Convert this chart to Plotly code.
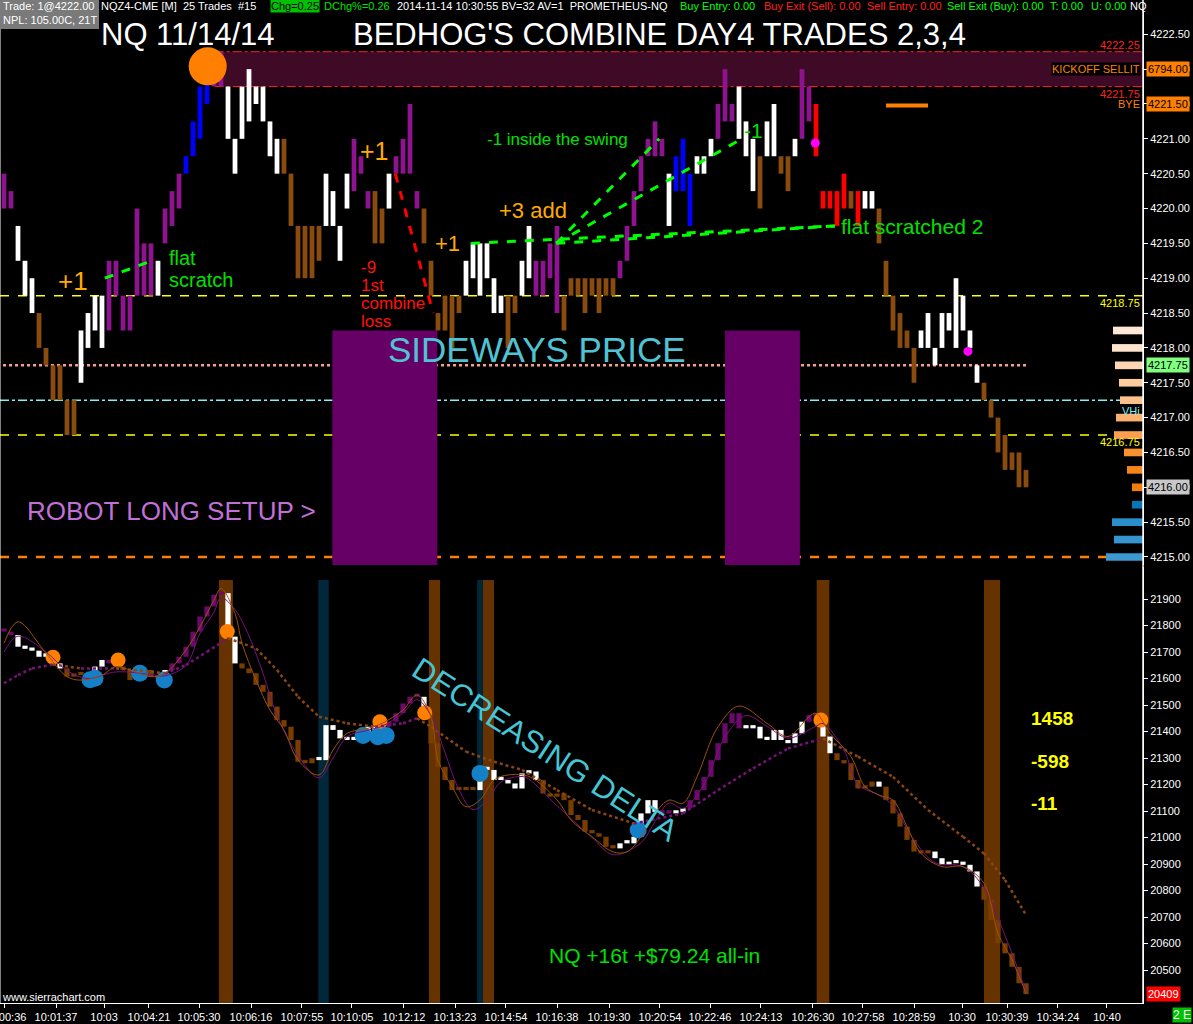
"""
NQ 11/14/14 trade recap chart (price bars + cumulative delta), Sierra Chart look.
"""

import plotly.graph_objects as go

# ---------------------------------------------------------------- data
# price bars, one per bar (left -> right); state = bar colouring study
bar_lo = [
    4220.0, 4220.0, 4219.25, 4218.75, 4218.5, 4218.0, 4217.75, 4217.25, 4217.25, 4216.75,
    4216.75, 4217.5, 4218.0, 4218.25, 4218.0, 4218.25, 4218.75, 4218.25, 4218.25, 4218.75,
    4218.75, 4218.75, 4218.75, 4219.5, 4219.75, 4220.0, 4220.5, 4220.75, 4221.0, 4221.5,
    4221.75, 4221.75, 4221.0, 4220.5, 4221.0, 4221.25, 4221.5, 4221.25, 4220.75, 4220.5,
    4220.5, 4219.75, 4219.0, 4219.0, 4219.0, 4219.25, 4219.75, 4219.75, 4219.25, 4220.0,
    4220.25, 4220.5, 4220.0, 4219.5, 4219.5, 4220.0, 4220.5, 4220.5, 4220.5, 4220.0,
    4219.5, 4218.75, 4218.25, 4218.25, 4218.0, 4218.5, 4218.75, 4219.0, 4218.75, 4219.0,
    4218.5, 4218.5, 4218.0, 4218.5, 4218.75, 4219.0, 4218.75, 4218.75, 4219.0, 4218.5,
    4218.25, 4218.75, 4218.75, 4218.5, 4218.75, 4218.5, 4218.75, 4218.75, 4219.0, 4219.25,
    4219.75, 4220.25, 4220.75, 4220.75, 4220.75, 4219.75, 4220.25, 4220.25, 4219.75, 4220.5,
    4220.5, 4220.75, 4221.0, 4221.25, 4221.25, 4221.0, 4220.75, 4220.25, 4220.0, 4220.75,
    4220.75, 4220.5, 4220.25, 4220.75, 4221.0, 4221.25, 4220.75, 4220.0, 4220.0, 4219.75,
    4220.0, 4220.0, 4219.75, 4220.0, 4220.0, 4219.5, 4218.75, 4218.25, 4218.0, 4218.0,
    4217.5, 4218.0, 4218.0, 4217.75, 4218.0, 4218.25, 4218.0, 4218.25, 4218.0, 4217.5,
    4217.25, 4217.0, 4216.5, 4216.25, 4216.25, 4216.0, 4216.0,
]
bar_hi = [
    4220.5, 4220.25, 4219.75, 4219.25, 4219.0, 4218.5, 4218.0, 4217.75, 4217.75, 4217.25,
    4217.25, 4218.25, 4218.5, 4218.75, 4218.75, 4219.25, 4219.25, 4218.75, 4218.75, 4220.0,
    4219.5, 4219.5, 4219.25, 4220.0, 4220.25, 4220.5, 4220.75, 4221.25, 4221.75, 4222.25,
    4222.25, 4222.25, 4221.75, 4221.0, 4221.75, 4222.0, 4221.75, 4221.75, 4221.25, 4221.0,
    4221.0, 4220.5, 4219.75, 4219.75, 4219.75, 4219.75, 4220.5, 4220.25, 4219.75, 4220.5,
    4221.0, 4220.75, 4220.25, 4220.25, 4220.0, 4220.5, 4220.75, 4221.0, 4221.5, 4220.25,
    4220.0, 4219.25, 4218.5, 4218.75, 4218.75, 4218.75, 4219.25, 4219.5, 4219.5, 4219.5,
    4219.0, 4218.75, 4218.75, 4218.75, 4219.25, 4219.75, 4219.25, 4219.25, 4219.5, 4219.75,
    4218.75, 4219.0, 4219.0, 4219.0, 4219.0, 4219.0, 4219.0, 4219.0, 4219.25, 4219.75,
    4220.25, 4220.75, 4221.0, 4221.25, 4221.0, 4220.5, 4220.75, 4221.0, 4220.5, 4220.75,
    4220.75, 4221.0, 4221.5, 4222.0, 4221.5, 4221.75, 4221.25, 4221.0, 4220.75, 4221.25,
    4221.5, 4220.75, 4220.75, 4221.0, 4222.0, 4221.75, 4221.5, 4220.25, 4220.25, 4220.25,
    4220.5, 4220.25, 4220.25, 4220.25, 4220.25, 4220.0, 4219.25, 4218.75, 4218.5, 4218.25,
    4218.0, 4218.25, 4218.5, 4218.0, 4218.5, 4218.5, 4219.0, 4218.75, 4218.25, 4217.75,
    4217.5, 4217.25, 4217.0, 4216.75, 4216.5, 4216.5, 4216.25,
]
bar_state = list(
    "ppwwwbbbbb" "bwwwwppppp" "ppwpppuuuu" "ppwwwwwwww" "bbbbbbwwww"
    "pppbbwpppp" "bbbbbbwwww" "wwbbwwpppp" "bbbbbbbbpp" "pppppwuuuw"
    "wwpppwwwbw" "wbbwpprrrr" "rbrwwbbbbb" "bwwwwwwwww" "bbbbbbb"
)

# cumulative delta, close of each bar
delta_close = [
    21777, 21764, 21720, 21712, 21705, 21682, 21695, 21657, 21638, 21607,
    21613, 21620, 21607, 21645, 21670, 21657, 21645, 21632, 21594, 21620,
    21632, 21607, 21600, 21632, 21657, 21682, 21720, 21777, 21834, 21872,
    21916, 21922, 21758, 21657, 21638, 21620, 21576, 21550, 21494, 21443,
    21418, 21368, 21286, 21280, 21299, 21292, 21424, 21406, 21374, 21368,
    21368, 21380, 21418, 21406, 21418, 21437, 21469, 21506, 21531, 21531,
    21469, 21355, 21267, 21217, 21179, 21191, 21179, 21179, 21267, 21255,
    21217, 21217, 21204, 21185, 21242, 21249, 21217, 21166, 21154, 21166,
    21141, 21085, 21066, 21022, 21016, 21003, 20965, 20959, 20978, 20978,
    21003, 21091, 21141, 21097, 21091, 21091, 21097, 21110, 21141, 21179,
    21229, 21292, 21356, 21431, 21469, 21412, 21412, 21418, 21374, 21368,
    21406, 21368, 21356, 21393, 21437, 21462, 21456, 21381, 21318, 21292,
    21280, 21217, 21185, 21192, 21211, 21192, 21141, 21091, 21041, 20991,
    20947, 20940, 20947, 20922, 20897, 20903, 20905, 20897, 20872, 20815,
    20765, 20689, 20601, 20563, 20512, 20450, 20409,
]
delta_state = list(
    "ppwwwwwwwb" "bbbwwppbbb" "wbbwpppppp" "ppwwbbbbbb" "bbbbbwwwww"
    "wwwwwppppp" "wbbbbbbbww" "wwwwwwwbbb" "bbbbbbbbww" "wwwwppwwpp"
    "ppppppwwww" "wwwwwppwwb" "bbbbbwbbbb" "bbbwwwwwww" "bbbbbbb"
)

# delta moving averages at sample bars
ma_fast_bar = [0, 2, 6, 9, 11, 14, 16, 18, 21, 23, 26, 28, 30, 31, 33, 34, 36, 38, 40, 42,
               45, 47, 49, 52, 54, 57, 59, 61, 62, 64, 66, 68, 70, 72, 75, 79, 81, 84, 87, 89,
               91, 93, 95, 97, 99, 102, 105, 109, 112, 115, 116, 118, 121, 123, 125, 127, 129,
               131, 134, 137, 140, 142, 144, 146]
ma_fast_val = [21733, 21814, 21695, 21607, 21594, 21613, 21645, 21632, 21607, 21619, 21708,
               21795, 21896, 21940, 21846, 21733, 21594, 21481, 21406, 21292, 21236, 21330,
               21393, 21412, 21431, 21481, 21538, 21456, 21292, 21192, 21116, 21142, 21217,
               21236, 21230, 21142, 21066, 21003, 20946, 20946, 21003, 21091, 21141, 21129,
               21229, 21418, 21496, 21431, 21381, 21456, 21469, 21393, 21305, 21192, 21160,
               21141, 21041, 20940, 20890, 20890, 20827, 20638, 20538, 20412]

ma_mid_bar = [0, 2, 6, 9, 12, 16, 21, 23, 26, 28, 30, 31, 33, 35, 37, 39, 42, 45, 47, 49,
              52, 54, 57, 59, 61, 63, 65, 67, 69, 71, 74, 75, 79, 84, 87, 91, 93, 95, 97, 100,
              103, 106, 109, 112, 116, 117, 120, 122, 125, 127, 130, 133, 137, 140, 143, 146]
ma_mid_val = [21700, 21760, 21700, 21630, 21600, 21625, 21615, 21610, 21650, 21770, 21850,
              21905, 21860, 21760, 21620, 21460, 21310, 21225, 21300, 21380, 21405, 21420,
              21470, 21520, 21460, 21320, 21180, 21105, 21140, 21210, 21230, 21220, 21120,
              21000, 20935, 20980, 21060, 21130, 21110, 21200, 21380, 21460, 21420, 21375,
              21420, 21430, 21330, 21200, 21160, 21120, 20990, 20905, 20890, 20810, 20630,
              20420]

ma_slow_bar = [0, 2, 4, 7, 11, 16, 21, 23, 26, 29, 32, 36, 39, 42, 45, 49, 53, 57, 59, 61,
               66, 70, 74, 79, 84, 90, 97, 102, 107, 112, 117, 122, 127, 132, 137, 140, 143, 146]
ma_slow_val = [21582, 21613, 21638, 21653, 21638, 21638, 21626, 21619, 21651, 21701, 21752,
               21714, 21632, 21531, 21456, 21431, 21418, 21431, 21450, 21418, 21324, 21286,
               21255, 21179, 21104, 21053, 21091, 21179, 21261, 21336, 21374, 21305, 21229,
               21104, 21003, 20940, 20840, 20708]

# signal dots on the delta panel
sell_dot_bar = [7.0, 16.3, 31.9, 53.7, 60.1, 116.7]
sell_dot_val = [21680, 21670, 21777, 21437, 21471, 21443]
buy_dot_bar = [12.3, 13.0, 19.4, 22.9, 51.3, 53.4, 54.6, 68.0, 90.6]
buy_dot_val = [21595, 21601, 21620, 21594, 21385, 21380, 21385, 21242, 21028]

# signal columns on the delta panel (start bar, end bar)
sell_cols = [(30.7, 32.7), (60.7, 62.3), (68.4, 70.0), (116.1, 117.9), (140.0, 142.3)]
buy_cols = [(44.9, 46.4), (67.6, 68.4)]

# trades: entry bar/price -> exit bar/price, result
trade_from_bar = [14.4, 55.9, 66.7, 78.9, 78.9, 78.9]
trade_from_px = [4219.0, 4220.5, 4219.5, 4219.5, 4219.5, 4219.5]
trade_to_bar = [21.1, 61.3, 118.7, 93.6, 105.4, 118.7]
trade_to_px = [4219.25, 4218.5, 4219.75, 4221.0, 4221.0, 4219.75]
trade_win = [True, False, True, True, True, True]

swing_high_bar, swing_high_price = 29.1, 4222.04
stop_dot_bar = [115.9, 137.7]
stop_dot_price = [4220.94, 4217.95]

# price levels
kickoff_lo, kickoff_hi, kickoff_from_bar = 4221.75, 4222.25, 30.1
yellow_levels = [4218.75, 4216.75]
cpl_level, cpl_end_bar = 4217.75, 146.4
vhi_level = 4217.25
sval_level = 4215.0
bye_level, bye_bars = 4221.48, (126, 132)
sideways_boxes = [(46.9, 61.9), (103.0, 113.7)]
sideways_top = 4218.25

# volume profile at right edge
vp_price = [4218.25, 4218.0, 4217.75, 4217.5, 4217.25, 4217.0, 4216.75,
            4216.5, 4216.25, 4216.0, 4215.75, 4215.5, 4215.25, 4215.0]
vp_volume = [300, 310, 280, 240, 230, 270, 290, 190, 160, 110, 110, 310, 290, 370]

# time axis labels (bar position, text)
time_tick_bar = [0.14, 7.43, 14.29, 20.71, 27.86, 35.29, 42.57, 49.71, 57.14, 64.43, 71.71,
                 79.0, 86.43, 93.71, 100.86, 108.14, 115.57, 122.71, 130.0, 136.86, 143.29,
                 150.57, 157.57]
time_tick_text = ["10:00:36", "10:01:37", "10:03", "10:04:21", "10:05:30", "10:06:16",
                  "10:07:55", "10:10:05", "10:12:12", "10:13:23", "10:14:54", "10:16:38",
                  "10:19:30", "10:20:54", "10:22:46", "10:24:13", "10:26:30", "10:27:58",
                  "10:28:59", "10:30", "10:30:39", "10:34:24", "10:40"]

price_ticks = [4215 + 0.5 * i for i in range(16)]
delta_ticks = [20500 + 100 * i for i in range(15)]

# ---------------------------------------------------------------- styling
PLOT_W, PLOT_H = 1143, 1003
X_RANGE = [-0.571, 162.714]
P_RANGE = [4214.885, 4222.82]
D_RANGE = [20375.5, 22020.8]
FONT = "Liberation Sans, Arial, sans-serif"
AXIS_SIZE = 11

bar_colors = {"w": "#FFFFFF", "b": "#8A4B0F", "p": "#8E138E", "u": "#0000FF", "r": "#FF0000"}
delta_colors = {"w": "#FFFFFF", "b": "#7A3D00", "p": "#6A0A6A"}
vp_colors = ["#FDE8D8", "#FDE2CC", "#FDD7B5", "#FDCBA0", "#FCC08C", "#FBB070", "#FAA050",
             "#F7922E", "#F5841A", "#F27F0C", "#0A74B8", "#2A8ECB", "#3894CF", "#3D97D0"]
BROWN, PURPLE = "#8B4513", "#7A107A"

fig = go.Figure()

# ---------------------------------------------------------------- price panel
fig.add_trace(go.Scatter(x=[swing_high_bar], y=[swing_high_price], mode="markers",
                         marker=dict(size=38, color="#FF8000"), hoverinfo="skip"))

bars = list(range(len(bar_lo)))
fig.add_trace(go.Bar(
    x=bars, y=[h - l for l, h in zip(bar_lo, bar_hi)], base=bar_lo, width=0.68,
    marker=dict(color=[bar_colors[s] for s in bar_state], line_width=0), hoverinfo="skip",
))

for win in (True, False):
    xs, ys = [], []
    for x0, y0, x1, y1, w in zip(trade_from_bar, trade_from_px, trade_to_bar, trade_to_px, trade_win):
        if w == win:
            xs += [x0, x1, None]
            ys += [y0, y1, None]
    fig.add_trace(go.Scatter(x=xs, y=ys, mode="lines", hoverinfo="skip",
                             line=dict(color="#00FF00" if win else "#FF0000", width=3, dash="dash")))

fig.add_trace(go.Scatter(x=stop_dot_bar, y=stop_dot_price, mode="markers",
                         marker=dict(size=9, color="#FF00FF"), hoverinfo="skip"))
fig.add_trace(go.Scatter(x=list(bye_bars), y=[bye_level, bye_level], mode="lines",
                         line=dict(color="#FF8000", width=4), hoverinfo="skip"))

# volume profile hanging off the right edge
fig.add_trace(go.Bar(x=vp_volume, y=vp_price, orientation="h", width=0.11, xaxis="x3", yaxis="y",
                     marker=dict(color=vp_colors, line_width=0), hoverinfo="skip"))

# ---------------------------------------------------------------- delta panel
fig.add_trace(go.Scatter(x=sell_dot_bar, y=sell_dot_val, mode="markers", yaxis="y2",
                         marker=dict(size=15, color="#FF8000"), hoverinfo="skip"))
fig.add_trace(go.Scatter(x=buy_dot_bar, y=buy_dot_val, mode="markers", yaxis="y2",
                         marker=dict(size=17, color="#1480C8"), hoverinfo="skip"))

# dotted slow average, purple while rising, brown while falling
for rising in (True, False):
    xs, ys = [], []
    for i in range(1, len(ma_slow_bar)):
        if (ma_slow_val[i] >= ma_slow_val[i - 1]) == rising:
            xs += [ma_slow_bar[i - 1], ma_slow_bar[i], None]
            ys += [ma_slow_val[i - 1], ma_slow_val[i], None]
    fig.add_trace(go.Scatter(x=xs, y=ys, mode="lines", yaxis="y2", hoverinfo="skip",
                             line=dict(color=PURPLE if rising else BROWN, width=2.5, dash="dot")))

fig.add_trace(go.Scatter(x=ma_mid_bar, y=ma_mid_val, mode="lines", yaxis="y2", hoverinfo="skip",
                         line=dict(color=PURPLE, width=1, shape="spline")))
fig.add_trace(go.Scatter(x=ma_fast_bar, y=ma_fast_val, mode="lines", yaxis="y2", hoverinfo="skip",
                         line=dict(color="#9A5010", width=1, shape="spline")))

delta_open = [delta_close[0]] + delta_close[:-1]
d_lo = [min(o, c) for o, c in zip(delta_open, delta_close)]
d_hi = [max(o, c) for o, c in zip(delta_open, delta_close)]
d_len = [max(h - l, 12) for l, h in zip(d_lo, d_hi)]
fig.add_trace(go.Bar(
    x=bars, y=d_len, base=d_lo, width=0.75, yaxis="y2",
    marker=dict(color=[delta_colors[s] for s in delta_state], line_width=0), hoverinfo="skip",
))

# ---------------------------------------------------------------- shapes
shapes = [
    dict(type="rect", xref="x", yref="y", x0=kickoff_from_bar, x1=X_RANGE[1],
         y0=kickoff_lo, y1=kickoff_hi, fillcolor="#3F0A26", line_width=0, layer="below"),
]
for lvl in (kickoff_hi, kickoff_lo):
    shapes.append(dict(type="line", xref="x", yref="y", x0=kickoff_from_bar, x1=X_RANGE[1],
                       y0=lvl, y1=lvl, line=dict(color="#FF2020", width=1, dash="dashdot"), layer="below"))
for lvl in yellow_levels:
    shapes.append(dict(type="line", xref="paper", yref="y", x0=0, x1=1, y0=lvl, y1=lvl,
                       line=dict(color="#FFFF00", width=1.5, dash="dash"), layer="below"))
shapes.append(dict(type="line", xref="x", yref="y", x0=-0.14, x1=cpl_end_bar, y0=cpl_level, y1=cpl_level,
                   line=dict(color="#F4A08C", width=2.5, dash="dot"), layer="below"))
shapes.append(dict(type="line", xref="paper", yref="y", x0=0, x1=1, y0=vhi_level, y1=vhi_level,
                   line=dict(color="#80F0F8", width=1.5, dash="dashdot"), layer="below"))
shapes.append(dict(type="line", xref="paper", yref="y", x0=0, x1=1, y0=sval_level, y1=sval_level,
                   line=dict(color="#FF8000", width=2.5, dash="dash"), layer="below"))
for x0, x1 in sideways_boxes:
    shapes.append(dict(type="rect", xref="x", yref="y", x0=x0, x1=x1, y0=P_RANGE[0], y1=sideways_top,
                       fillcolor="#660066", line_width=0, layer="below"))
for x0, x1 in sell_cols:
    shapes.append(dict(type="rect", xref="x", yref="y2", x0=x0, x1=x1, y0=D_RANGE[0], y1=21972,
                       fillcolor="#663300", line_width=0, layer="below"))
for x0, x1 in buy_cols:
    shapes.append(dict(type="rect", xref="x", yref="y2", x0=x0, x1=x1, y0=D_RANGE[0], y1=21972,
                       fillcolor="#00283A", line_width=0, layer="below"))
# frame: left edge, right axis line up to the top of the window, header box
shapes.append(dict(type="line", xref="paper", yref="paper", x0=0, x1=0, y0=0, y1=1,
                   line=dict(color="#FFFFFF", width=1)))
shapes.append(dict(type="line", xref="paper", yref="paper", x0=1, x1=1, y0=0, y1=1,
                   line=dict(color="#FFFFFF", width=1.5)))
shapes.append(dict(type="rect", xref="paper", yref="paper", x0=0, x1=99 / PLOT_W,
                   y0=(PLOT_H - 29) / PLOT_H, y1=1, fillcolor="#7A7A7A", line_width=0))


# ---------------------------------------------------------------- text
def note(text, px, py, size, color, **kw):
    d = dict(text=text, x=px / PLOT_W, y=(PLOT_H - py) / PLOT_H, xref="paper", yref="paper",
             xanchor="left", yanchor="middle", showarrow=False, borderpad=0,
             font=dict(family=FONT, size=size, color=color))
    d.update(kw)
    return d


NB = "\u00a0"
GOLD, GREEN, RED = "#FFAA00", "#00E000", "#FF1010"
HS = 11  # header strip size
annotations = [
    # header strip
    note("Trade: 1@4222.00", 2, 6, HS, "white"),
    note(f"NQZ4-CME [M]{NB}{NB}25 Trades{NB}{NB}#15", 100, 6, HS, "white"),
    note("Chg=0.25", 270, 6, HS, "black", bgcolor="#00C000"),
    note("DChg%=0.26", 323, 6, HS, GREEN),
    note(f"2014-11-14 10:30:55 BV=32 AV=1{NB}{NB}PROMETHEUS-NQ", 396, 6, HS, "white"),
    note("Buy Entry: 0.00", 679, 6, HS, "#00FF00"),
    note("Buy Exit (Sell): 0.00", 763, 6, HS, "#FF2020"),
    note("Sell Entry: 0.00", 866, 6, HS, "#FF2020"),
    note("Sell Exit (Buy): 0.00", 946, 6, HS, "#00FF00"),
    note("T: 0.00", 1049, 6, HS, "#00FF00"),
    note("U: 0.00", 1090, 6, HS, "#00FF00"),
    note("NQ", 1129, 6, HS, "white"),
    note("NPL: 105.00C, 21T", 2, 20, HS, "white"),
    # titles and trade notes
    note("NQ 11/14/14", 100, 34, 31, "white"),
    note("BEDHOG'S COMBINE DAY4 TRADES 2,3,4", 352, 34, 31, "white"),
    note("+1", 57, 281, 26, GOLD),
    note("flat", 168, 258, 20, GREEN),
    note("scratch", 168, 280, 20, GREEN),
    note("+1", 359, 151, 25, GOLD),
    note("-9", 360, 267, 17, RED),
    note("1st", 360, 285, 17, RED),
    note("combine", 360, 303, 17, RED),
    note("loss", 360, 321, 17, RED),
    note("+1", 434, 243, 22, GOLD),
    note("+3 add", 498, 211, 22, GOLD),
    note("-1 inside the swing", 486, 139, 17, GREEN),
    note("-1", 743, 130, 21, GREEN),
    note("flat scratched 2", 840, 226, 21, GREEN),
    note("SIDEWAYS PRICE", 387, 349, 35, "#4FC3D3"),
    note("ROBOT LONG SETUP >", 26, 511, 26, "#C070D8"),
    note("DECREASING DELTA", 545, 749, 31, "#45C5D5", xanchor="center", textangle=33),
    note("NQ +16t +$79.24 all-in", 548, 955, 21, GREEN),
    note("<b>1458</b>", 1030, 718, 19, "#FFFF00"),
    note("<b>-598</b>", 1030, 761, 19, "#FFFF00"),
    note("<b>-11</b>", 1030, 803, 19, "#FFFF00"),
    note("www.sierrachart.com", 1, 997, 11, "white"),
    note(f"2{NB}E", 1172, 1015, 12, "white", bgcolor="#00C000"),
]


def level_label(text, y, color, yref="y", anchor="middle", bg=None):
    # labels sitting just inside the right edge of the plot
    d = dict(text=text, x=1, y=y, xref="paper", yref=yref, xanchor="right", yanchor=anchor,
             xshift=-2, showarrow=False, borderpad=0, font=dict(family=FONT, size=AXIS_SIZE, color=color))
    if bg:
        d["bgcolor"] = bg
    return d


def axis_box(text, y, bg, fg="black", yref="y"):
    # highlighted value boxes on the right axis
    return dict(text=text, x=1, y=y, xref="paper", yref=yref, xanchor="left", yanchor="middle",
                xshift=3, showarrow=False, borderpad=1, bgcolor=bg,
                font=dict(family=FONT, size=AXIS_SIZE, color=fg))


annotations += [
    level_label("4222.25", kickoff_hi, "#FF2020", anchor="bottom"),
    level_label("4221.75", kickoff_lo, "#FF2020", anchor="top"),
    level_label("BYE", 4221.5, "#FF8000"),
    level_label("KICKOFF SELLIT", 4222.0, "#FF8000", bg="#000000"),
    level_label("4218.75", yellow_levels[0], "#FFFF00", anchor="top"),
    level_label("4216.75", yellow_levels[1], "#FFFF00", anchor="top"),
    level_label("VHi", 4217.1, "#80F0F8"),
    axis_box("6794.00", 4222.0, "#FF8000"),
    axis_box("4221.50", 4221.5, "#FF8000"),
    axis_box("4217.75", 4217.75, "#80FF80"),
    axis_box("4216.00", 4216.0, "#C8C8C8"),
    axis_box("20409", 20409, "#FF0000", fg="white", yref="y2"),
]

# ---------------------------------------------------------------- layout
axis_common = dict(showgrid=False, zeroline=False, ticks="outside", ticklen=4, tickcolor="white",
                   showline=True, linecolor="white", automargin=False,
                   tickfont=dict(family=FONT, size=AXIS_SIZE, color="white"))

fig.update_layout(
    width=1193,
    height=1024,
    margin=dict(l=0, r=50, t=0, b=21, autoexpand=False),
    paper_bgcolor="black",
    plot_bgcolor="black",
    showlegend=False,
    barmode="overlay",
    xaxis=dict(domain=[0, 1], range=X_RANGE, anchor="y2", tickmode="array", tickangle=0,
               ticklabeloverflow="allow", tickvals=time_tick_bar, ticktext=time_tick_text,
               **axis_common),
    xaxis3=dict(overlaying="x", anchor="y", range=[11430, 0], visible=False),
    yaxis=dict(domain=[0.43669, 0.98804], range=P_RANGE, anchor="x", side="right",
               tickmode="array", tickvals=price_ticks, tickformat=".2f", **axis_common),
    yaxis2=dict(domain=[0, 0.4347], range=D_RANGE, anchor="x", side="right",
                tickmode="array", tickvals=delta_ticks, tickformat="d", **axis_common),
    shapes=shapes,
    annotations=annotations,
)

# the page's default body margin would push the chart 8px down/right
fig.write_html("out.html", config={"displayModeBar": False},
               post_script="document.body.style.margin='0';"
                           "document.body.style.background='black';")
